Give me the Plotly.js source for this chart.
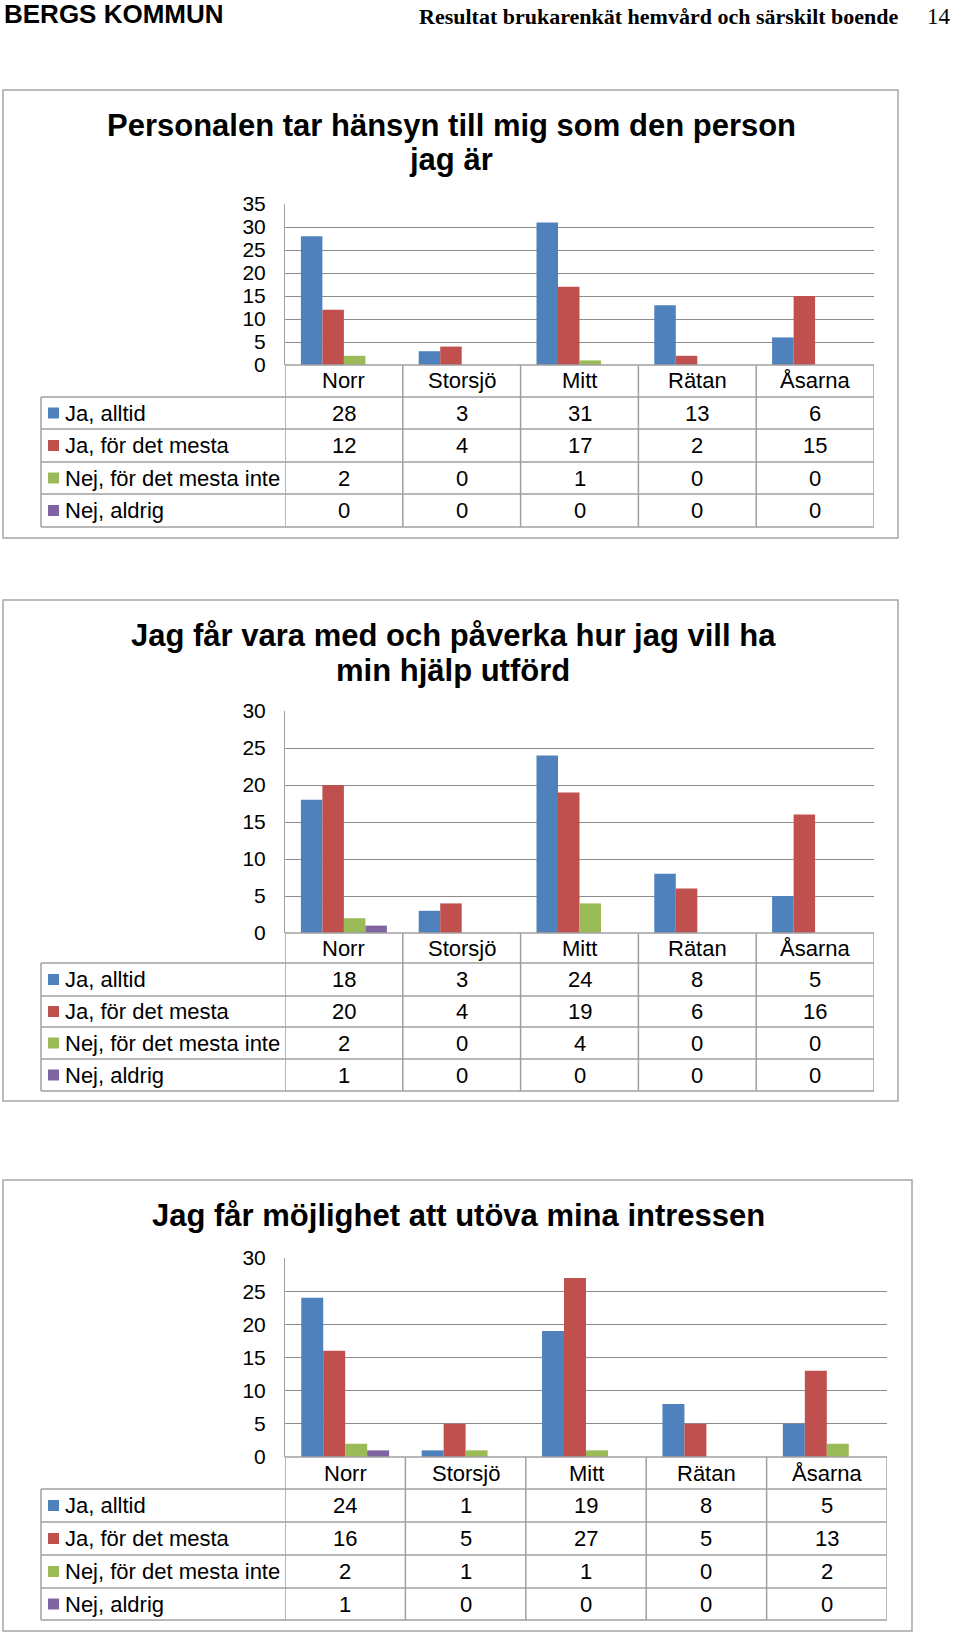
<!DOCTYPE html>
<html>
<head>
<meta charset="utf-8">
<script src="https://cdn.plot.ly/plotly-3.0.1.min.js"></script>
<style>
  body { margin: 0; background: #fff; }
  #chart { width: 960px; height: 1632px; }
</style>
</head>
<body>
<div id="chart"></div>
<script>
var categories = ['Norr', 'Storsjö', 'Mitt', 'Rätan', 'Åsarna'];
var seriesNames = ['Ja, alltid', 'Ja, för det mesta', 'Nej, för det mesta inte', 'Nej, aldrig'];
var seriesColors = ['#4F81BD', '#C0504D', '#9BBB59', '#8064A2'];

// Personalen tar hänsyn till mig som den person jag är
var hansynAlltid = [28, 3, 31, 13, 6];
var hansynMesta = [12, 4, 17, 2, 15];
var hansynMestaInte = [2, 0, 1, 0, 0];
var hansynAldrig = [0, 0, 0, 0, 0];

// Jag får vara med och påverka hur jag vill ha min hjälp utförd
var paverkaAlltid = [18, 3, 24, 8, 5];
var paverkaMesta = [20, 4, 19, 6, 16];
var paverkaMestaInte = [2, 0, 4, 0, 0];
var paverkaAldrig = [1, 0, 0, 0, 0];

// Jag får möjlighet att utöva mina intressen
var intressenAlltid = [24, 1, 19, 8, 5];
var intressenMesta = [16, 5, 27, 5, 13];
var intressenMestaInte = [2, 1, 1, 0, 2];
var intressenAldrig = [1, 0, 0, 0, 0];

var W = 960, H = 1632;
function px(x) { return x / W; }
function py(y) { return 1 - y / H; }

var FONT = 'Liberation Sans, Arial, sans-serif';
var SERIF = 'Liberation Serif, Times New Roman, serif';
var GRID = '#8c8c8c';
var BORDER = '#a0a0a0';

var charts = [
  {
    title: ['Personalen tar hänsyn till mig som den person', 'jag är'],
    series: [hansynAlltid, hansynMesta, hansynMestaInte, hansynAldrig],
    ymax: 35,
    box: [3, 90, 898, 538],
    titleX: 451, titleY: [125, 160],
    plot: [285, 204, 874, 365],
    rows: [397, 429, 462, 494, 527]
  },
  {
    title: ['Jag får vara med och påverka hur jag vill ha', 'min hjälp utförd'],
    series: [paverkaAlltid, paverkaMesta, paverkaMestaInte, paverkaAldrig],
    ymax: 30,
    box: [3, 600, 898, 1101],
    titleX: 453, titleY: [635, 670],
    plot: [285, 711, 874, 933],
    rows: [963, 996, 1027, 1059, 1091]
  },
  {
    title: ['Jag får möjlighet att utöva mina intressen'],
    series: [intressenAlltid, intressenMesta, intressenMestaInte, intressenAldrig],
    ymax: 30,
    box: [3, 1180, 912, 1631],
    titleX: 458, titleY: [1215],
    plot: [285, 1258, 887, 1457],
    rows: [1489, 1522, 1555, 1588, 1620]
  }
];

var data = [];
var shapes = [];
var annotations = [];
var layout = {
  width: W,
  height: H,
  margin: {l: 0, r: 0, t: 0, b: 0},
  paper_bgcolor: '#fff',
  plot_bgcolor: '#fff',
  barmode: 'group',
  bargap: 0.27,
  bargroupgap: 0,
  showlegend: false,
  font: {family: FONT, color: '#000'}
};

// page header
annotations.push({
  text: '<b>BERGS KOMMUN</b>', xref: 'paper', yref: 'paper',
  x: px(2), y: py(14), xanchor: 'left', yanchor: 'middle', showarrow: false,
  font: {family: FONT, size: 26, color: '#000'}
});
annotations.push({
  text: '<b>Resultat brukarenkät hemvård och särskilt boende</b>', xref: 'paper', yref: 'paper',
  x: px(901), y: py(17), xanchor: 'right', yanchor: 'middle', showarrow: false,
  font: {family: SERIF, size: 22, color: '#000'}
});
annotations.push({
  text: '14', xref: 'paper', yref: 'paper',
  x: px(953), y: py(17), xanchor: 'right', yanchor: 'middle', showarrow: false,
  font: {family: SERIF, size: 23, color: '#000'}
});

charts.forEach(function (c, i) {
  var suf = i === 0 ? '' : String(i + 1);
  var xa = 'x' + suf, ya = 'y' + suf;
  var left = c.plot[0], top = c.plot[1], right = c.plot[2], bottom = c.plot[3];
  var tableLeft = 41;
  var lastRow = c.rows[c.rows.length - 1];

  c.series.forEach(function (vals, s) {
    data.push({
      type: 'bar', x: categories, y: vals, name: seriesNames[s],
      xaxis: xa, yaxis: ya,
      marker: {color: seriesColors[s], line: {width: 0}},
      hoverinfo: 'none'
    });
  });

  layout['xaxis' + suf] = {
    domain: [px(left), px(right)], anchor: ya, type: 'category',
    range: [-0.5, 4.5], showticklabels: false, showgrid: false,
    zeroline: false, showline: false, fixedrange: true
  };
  layout['yaxis' + suf] = {
    domain: [py(bottom), py(top)], anchor: xa, range: [0, c.ymax], dtick: 5,
    showgrid: true, gridcolor: GRID, gridwidth: 1, zeroline: false,
    showline: true, linecolor: BORDER, linewidth: 1, ticks: '',
    ticklabelstandoff: 14, fixedrange: true,
    tickfont: {family: FONT, size: 21, color: '#000'}
  };

  // chart frame
  shapes.push({
    type: 'rect', xref: 'paper', yref: 'paper',
    x0: px(c.box[0]), x1: px(c.box[2]), y0: py(c.box[3]), y1: py(c.box[1]),
    line: {color: '#a6a6a6', width: 1.5}, fillcolor: 'rgba(0,0,0,0)', layer: 'below'
  });

  // title
  c.title.forEach(function (t, k) {
    annotations.push({
      text: '<b>' + t + '</b>', xref: 'paper', yref: 'paper',
      x: px(c.titleX), y: py(c.titleY[k]), xanchor: 'center', yanchor: 'middle',
      showarrow: false, font: {family: FONT, size: 31, color: '#000'}
    });
  });

  // data table lines
  shapes.push({
    type: 'line', xref: 'paper', yref: 'paper',
    x0: px(left), x1: px(right), y0: py(bottom), y1: py(bottom),
    line: {color: BORDER, width: 1.5}
  });
  c.rows.forEach(function (r) {
    shapes.push({
      type: 'line', xref: 'paper', yref: 'paper',
      x0: px(tableLeft), x1: px(right), y0: py(r), y1: py(r),
      line: {color: BORDER, width: 1.5}
    });
  });
  shapes.push({
    type: 'line', xref: 'paper', yref: 'paper',
    x0: px(tableLeft), x1: px(tableLeft), y0: py(c.rows[0]), y1: py(lastRow),
    line: {color: BORDER, width: 1.5}
  });
  for (var b = -0.5; b <= categories.length - 0.5; b += 1) {
    shapes.push({
      type: 'line', xref: xa, yref: 'paper',
      x0: b, x1: b, y0: py(bottom), y1: py(lastRow),
      line: {color: BORDER, width: 1.5}
    });
  }

  // category row
  categories.forEach(function (cat) {
    annotations.push({
      text: cat, xref: xa, yref: 'paper', x: cat, y: py((bottom + c.rows[0]) / 2),
      xanchor: 'center', yanchor: 'middle', showarrow: false,
      font: {family: FONT, size: 22, color: '#000'}
    });
  });

  // series rows
  c.series.forEach(function (vals, s) {
    var mid = (c.rows[s] + c.rows[s + 1]) / 2;
    shapes.push({
      type: 'rect', xref: 'paper', yref: 'paper',
      x0: px(48), x1: px(59), y0: py(mid + 5.5), y1: py(mid - 5.5),
      fillcolor: seriesColors[s], line: {width: 0}
    });
    annotations.push({
      text: seriesNames[s], xref: 'paper', yref: 'paper', x: px(63), y: py(mid),
      xanchor: 'left', yanchor: 'middle', showarrow: false,
      font: {family: FONT, size: 22, color: '#000'}
    });
    vals.forEach(function (v, j) {
      annotations.push({
        text: String(v), xref: xa, yref: 'paper', x: categories[j], y: py(mid),
        xanchor: 'center', yanchor: 'middle', showarrow: false,
        font: {family: FONT, size: 22, color: '#000'}
      });
    });
  });
});

layout.shapes = shapes;
layout.annotations = annotations;

Plotly.newPlot('chart', data, layout, {staticPlot: true, displayModeBar: false});
</script>
</body>
</html>
